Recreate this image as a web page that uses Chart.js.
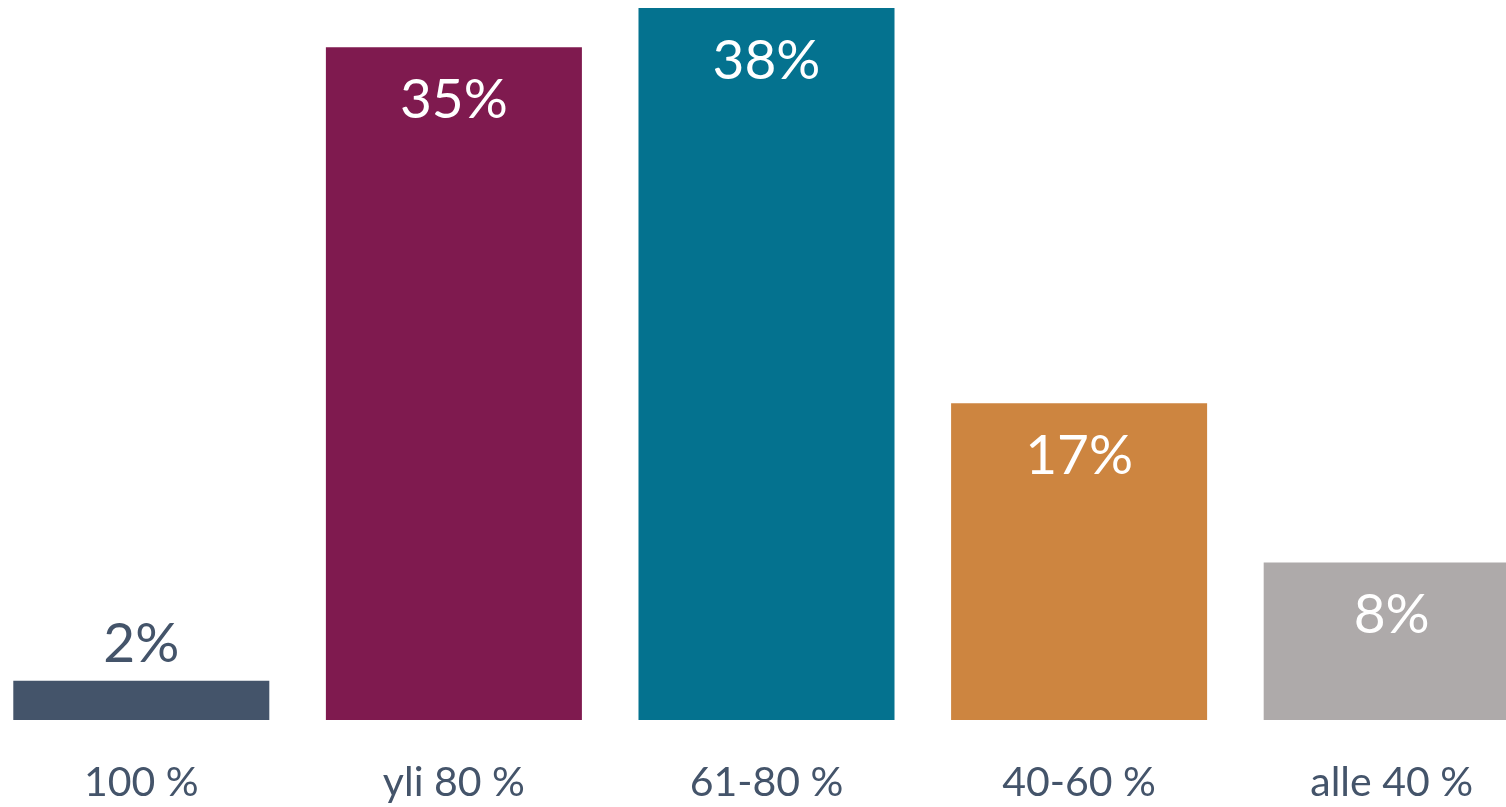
<!DOCTYPE html>
<html>
<head>
<meta charset="utf-8">
<script src="https://cdn.jsdelivr.net/npm/chart.js@4/dist/chart.umd.min.js"></script>
<style>
  html, body { margin: 0; padding: 0; background: #ffffff; overflow: hidden; width: 1506px; height: 807px; }
  #wrap { position: absolute; left: -15px; top: 0; width: 1563px; height: 807px; }
</style>
</head>
<body>
<div id="wrap"><canvas id="c"></canvas></div>
<script>
// Data
const categories = ["100 %", "yli 80 %", "61-80 %", "40-60 %", "alle 40 %"];
const barHeights = [2.1, 35.9, 38, 16.9, 8.4];          // bar lengths as drawn
const valueLabels = ["2%", "35%", "38%", "17%", "8%"];  // printed data labels
const barColors = ["#44546A", "#7F1A4F", "#04728F", "#CD8540", "#AEAAAA"];

const textColor = "#44546A";

const labelPlugin = {
  id: "valueLabels",
  afterDatasetsDraw(chart) {
    const ctx = chart.ctx;
    const meta = chart.getDatasetMeta(0);
    ctx.save();
    ctx.font = "55px Lato";
    ctx.textAlign = "center";
    ctx.textBaseline = "middle";
    meta.data.forEach((bar, i) => {
      const h = bar.base - bar.y;
      if (h < 80) {
        ctx.fillStyle = textColor;
        ctx.fillText(valueLabels[i], bar.x, bar.y - 36);
      } else {
        ctx.fillStyle = "#ffffff";
        ctx.fillText(valueLabels[i], bar.x, bar.y + 53);
      }
    });
    ctx.restore();
  }
};

new Chart(document.getElementById("c"), {
  type: "bar",
  data: {
    labels: categories,
    datasets: [{
      data: barHeights,
      backgroundColor: barColors,
      borderWidth: 0,
      barPercentage: 0.819,
      categoryPercentage: 1.0
    }]
  },
  options: {
    responsive: true,
    maintainAspectRatio: false,
    animation: false,
    events: [],
    layout: { padding: { top: 8, left: 0, right: 0, bottom: 0 } },
    plugins: { legend: { display: false }, tooltip: { enabled: false } },
    scales: {
      x: {
        grid: { display: false, drawTicks: false },
        border: { display: false },
        ticks: { color: textColor, font: { family: "Lato", size: 41 }, padding: 38, maxRotation: 0, autoSkip: false },
        afterFit(scale) { scale.height = 87; }
      },
      y: {
        display: false,
        min: 0,
        max: 38
      }
    }
  },
  plugins: [labelPlugin]
});
</script>
</body>
</html>
